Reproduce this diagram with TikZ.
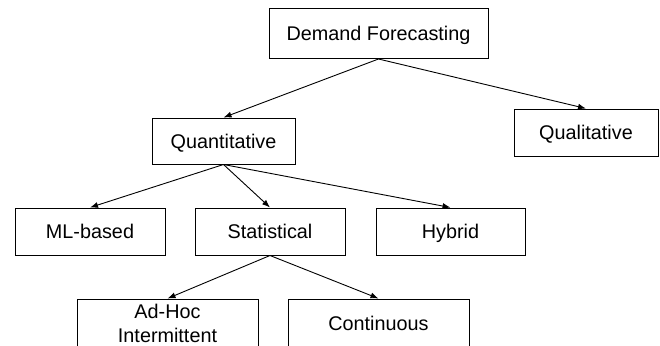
\documentclass[tikz,border=0pt]{standalone}
\usepackage{fontspec}
\setmainfont{Liberation Sans}
\usepackage{tikz}
\usetikzlibrary{arrows.meta, positioning}

\begin{document}
\begin{tikzpicture}[
    x=1pt, y=-1pt,
    box/.style={
        rectangle, draw=black, line width=1pt, fill=white,
        minimum width=150pt, minimum height=47pt, inner sep=0pt,
        text height=14.2pt, text depth=0pt,
        text centered, align=center, font=\fontsize{19.8}{24}\selectfont
    },
    arrow/.style={-{Latex[length=8pt, width=6pt]}, line width=0.9pt, black}
]
    \useasboundingbox (0,0) rectangle (660,345);
    \clip (0,0) rectangle (660,345);

    \node[box, minimum width=219pt, minimum height=50pt] (demand) at (378.5,33.5) {Demand Forecasting};
    \node[box, minimum width=143pt, minimum height=46pt] (quant) at (223.5,141) {Quantitative};
    \node[box, minimum width=144pt] (qual) at (586,132.5) {Qualitative};

    %% Quantitative branch
    \node[box] (ml) at (90,231.5) {ML-based};
    \node[box] (stat) at (270,231.5) {Statistical};
    \node[box, minimum width=149pt] (hybrid) at (450.5,231.5) {Hybrid};

    %% Statistical branch
    \node[box, minimum width=181pt, minimum height=48pt, text height={}, text depth={}] (adhoc) at (167.5,323) {Ad-Hoc\\Intermittent};
    \node[box, minimum width=181pt, minimum height=48pt] (cont) at (378.5,323) {Continuous};

    \draw[arrow] (demand.south) -- (quant.north);
    \draw[arrow] (demand.south) -- (qual.north);
    \draw[arrow] (quant.south) -- (ml.north);
    \draw[arrow] (quant.south) -- (stat.north);
    \draw[arrow] (quant.south) -- (hybrid.north);
    \draw[arrow] (stat.south) -- (adhoc.north);
    \draw[arrow] (stat.south) -- (cont.north);
\end{tikzpicture}
\end{document}
